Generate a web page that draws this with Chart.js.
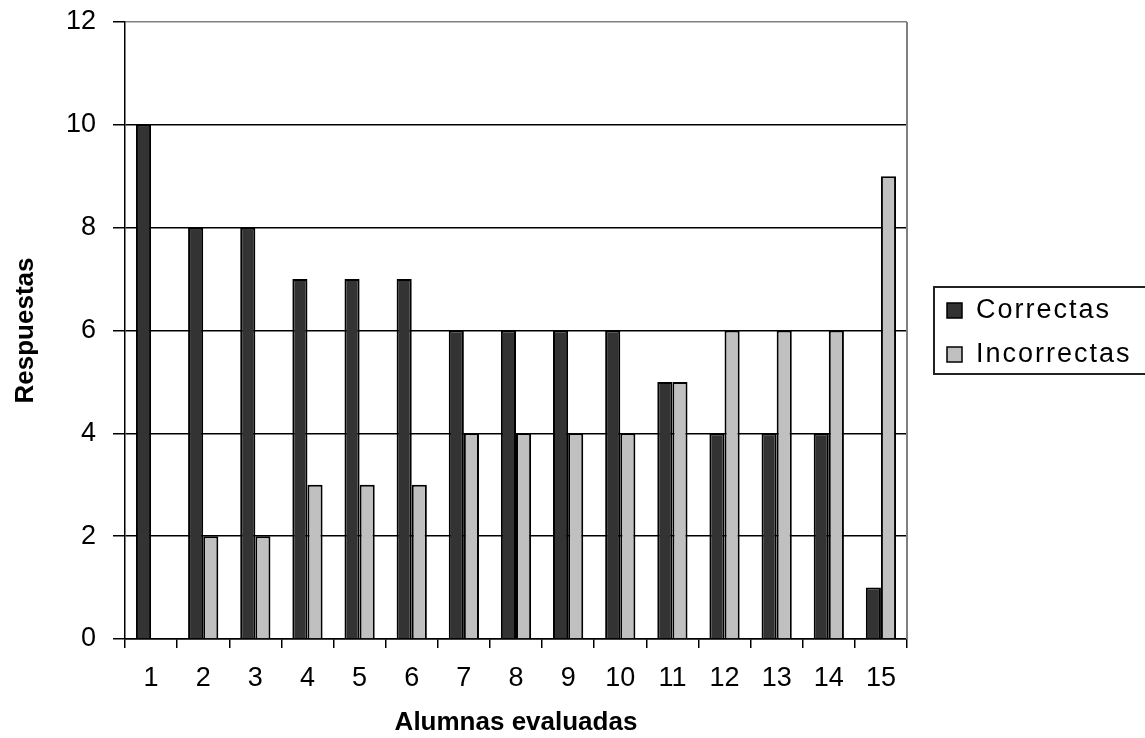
<!DOCTYPE html>
<html>
<head>
<meta charset="utf-8">
<script src="https://cdn.jsdelivr.net/npm/chart.js@4/dist/chart.umd.min.js"></script>
<style>
  html, body { margin: 0; padding: 0; background: #fff; }
  #wrap { width: 1145px; height: 738px; position: relative; }
</style>
</head>
<body>
<div id="wrap"><canvas id="chart"></canvas></div>
<script>
// Student answers: correct vs. incorrect per student
const categories = ['1', '2', '3', '4', '5', '6', '7', '8', '9', '10', '11', '12', '13', '14', '15'];
const correctas = [10, 8, 8, 7, 7, 7, 6, 6, 6, 6, 5, 4, 4, 4, 1];
const incorrectas = [0, 2, 2, 3, 3, 3, 4, 4, 4, 4, 5, 6, 6, 6, 9];
const yTicks = [0, 2, 4, 6, 8, 10, 12];
const seriesNames = ['Correctas', 'Incorrectas'];
const seriesColors = ['#333333', '#c0c0c0'];

const FONT = '"Liberation Sans", Arial, sans-serif';

// Frame: grey right edge of the plot and a boxed legend beside it
const framePlugin = {
  id: 'frame',
  afterDatasetsDraw(chart) {
    const { ctx, chartArea } = chart;
    ctx.save();
    ctx.strokeStyle = '#808080';
    ctx.lineWidth = 2;
    ctx.beginPath();
    ctx.moveTo(chartArea.right, chartArea.top);
    ctx.lineTo(chartArea.right, chartArea.bottom);
    ctx.stroke();
    ctx.restore();
  },
  afterDraw(chart) {
    const { ctx, chartArea } = chart;
    const x0 = chartArea.right + 27;
    const y0 = chartArea.top + 265;
    ctx.save();
    ctx.strokeStyle = '#222';
    ctx.lineWidth = 2;
    ctx.strokeRect(x0, y0, 240, 87);
    ctx.font = '27px ' + FONT;
    ctx.letterSpacing = '2px';
    ctx.textBaseline = 'middle';
    ctx.fillStyle = '#000';
    chart.data.datasets.forEach((ds, i) => {
      const cy = y0 + 24 + i * 44;
      ctx.fillStyle = ds.backgroundColor;
      ctx.fillRect(x0 + 13, cy - 8, 15, 15);
      ctx.strokeStyle = '#000';
      ctx.lineWidth = 1.5;
      ctx.strokeRect(x0 + 13, cy - 8, 15, 15);
      ctx.fillStyle = '#000';
      ctx.fillText(ds.label, x0 + 42, cy);
    });
    ctx.restore();
  }
};

new Chart(document.getElementById('chart'), {
  type: 'bar',
  data: {
    labels: categories,
    datasets: [
      { label: seriesNames[0], data: correctas, backgroundColor: seriesColors[0], borderColor: '#000', borderWidth: 2 },
      { label: seriesNames[1], data: incorrectas, backgroundColor: seriesColors[1], borderColor: '#000', borderWidth: 2 }
    ]
  },
  options: {
    responsive: true,
    maintainAspectRatio: false,
    animation: false,
    layout: { padding: { top: 22, right: 238, left: 0, bottom: 0 } },
    plugins: {
      legend: { display: false },
      tooltip: { enabled: false }
    },
    datasets: {
      bar: { categoryPercentage: 0.58, barPercentage: 1.0 }
    },
    scales: {
      x: {
        offset: true,
        grid: {
          offset: true,
          drawOnChartArea: false,
          color: '#000',
          tickColor: '#000',
          lineWidth: 1.5,
          tickLength: 9
        },
        border: { color: '#000', width: 1.5 },
        ticks: { font: { family: FONT, size: 27 }, color: '#000', padding: 14, maxRotation: 0 },
        title: {
          display: true,
          text: 'Alumnas evaluadas',
          font: { family: FONT, size: 26, weight: 'bold' },
          color: '#000',
          padding: { top: 1, bottom: 0 }
        },
        afterFit(scale) {
          scale.height = 99;
          scale.paddingLeft = 0;
          scale.paddingRight = 0;
        }
      },
      y: {
        min: 0,
        max: 12,
        afterBuildTicks(scale) { scale.ticks = yTicks.map(v => ({ value: v })); },
        grid: {
          color: (c) => (c.tick && c.tick.value === 12 ? '#808080' : '#000'),
          tickColor: '#000',
          lineWidth: 1.5,
          tickLength: 12
        },
        border: { color: '#000', width: 1.5 },
        ticks: { font: { family: FONT, size: 27 }, color: '#000', padding: 17 },
        title: {
          display: true,
          text: 'Respuestas',
          font: { family: FONT, size: 26, weight: 'bold' },
          color: '#000',
          padding: { top: 10, bottom: 0 }
        },
        afterFit(scale) {
          scale.width = 125;
          scale.paddingTop = 0;
          scale.paddingBottom = 0;
        }
      }
    }
  },
  plugins: [framePlugin]
});
</script>
</body>
</html>
